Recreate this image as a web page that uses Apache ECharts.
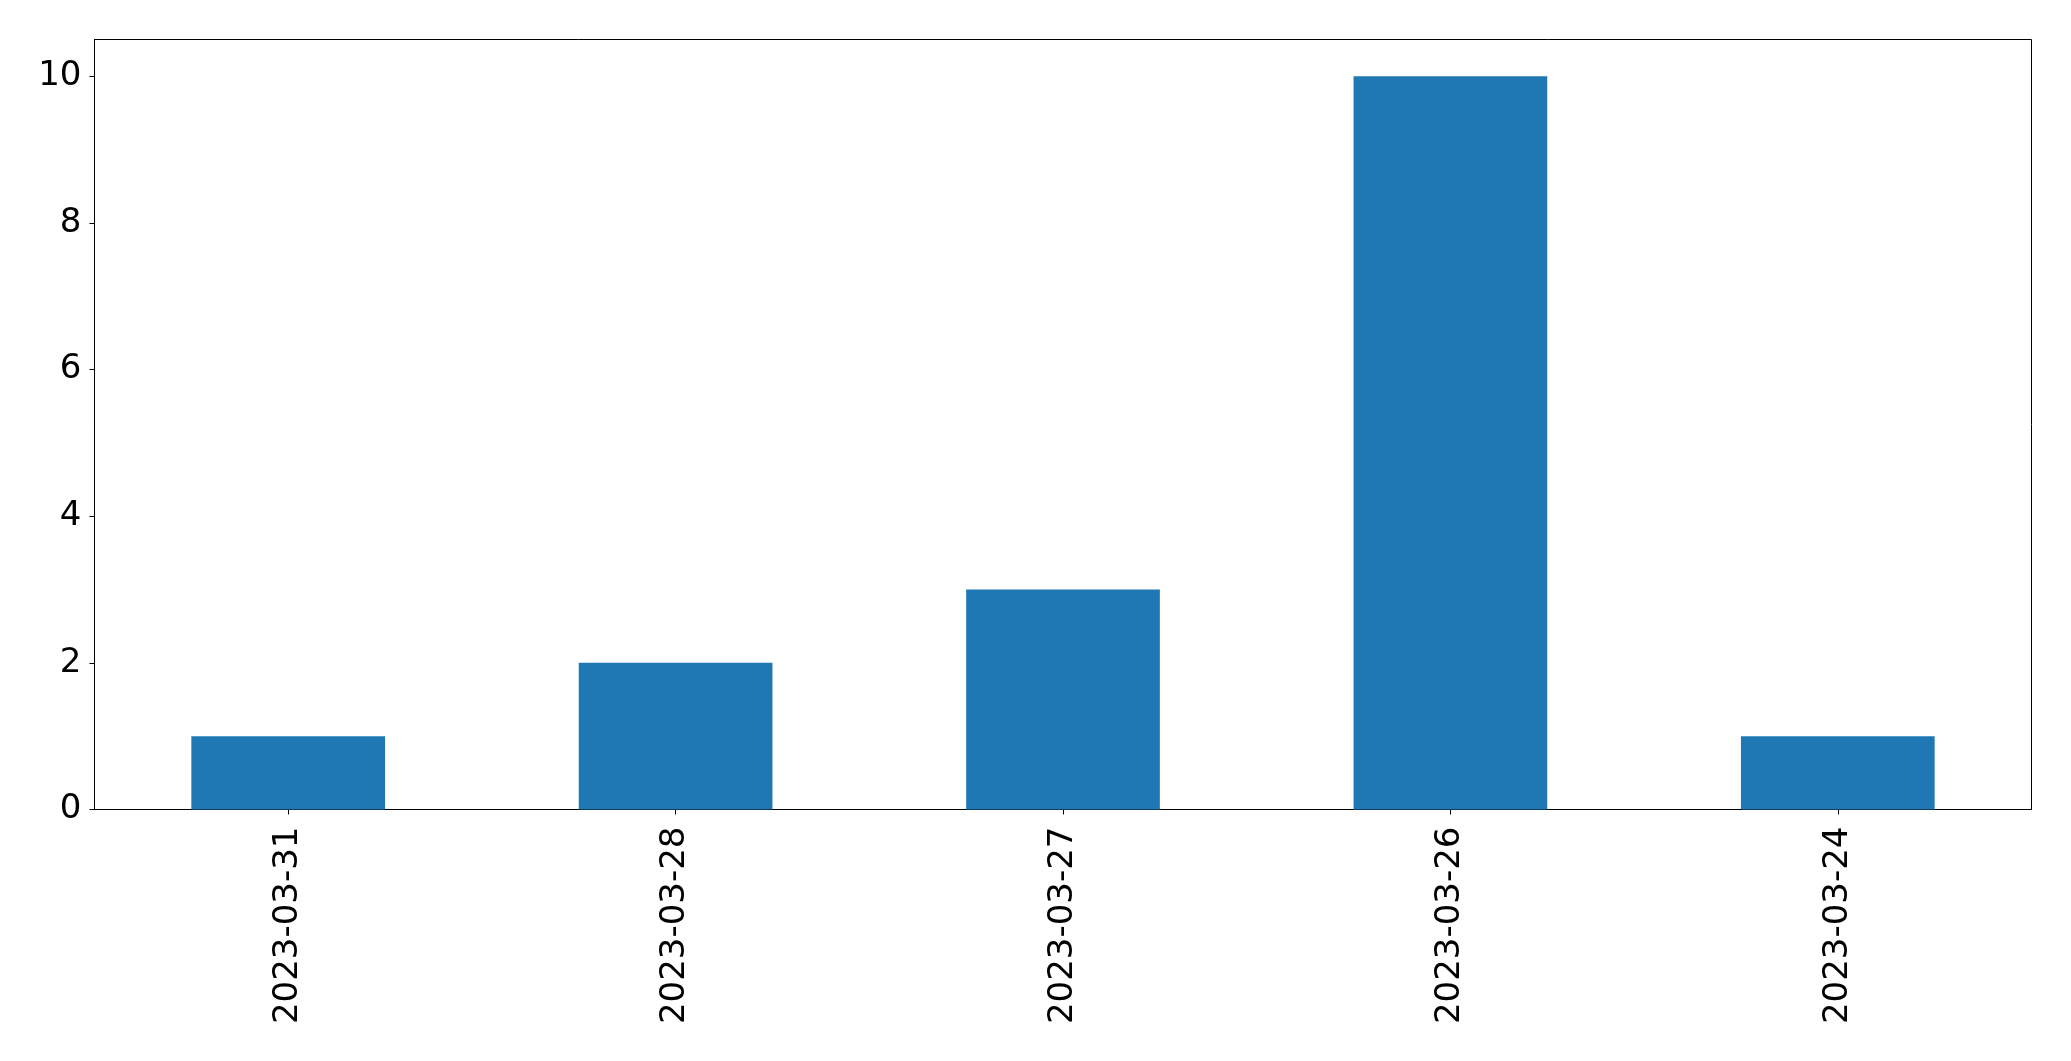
<!DOCTYPE html>
<html>
<head>
<meta charset="utf-8">
<script src="https://cdn.jsdelivr.net/npm/echarts@6/dist/echarts.min.js"></script>
<style>
html,body{margin:0;padding:0;background:#fff;}
#chart{width:2071px;height:1061px;}
</style>
</head>
<body>
<div id="chart"></div>
<script>
const categories = ['2023-03-31', '2023-03-28', '2023-03-27', '2023-03-26', '2023-03-24'];
const values = [1, 2, 3, 10, 1];
const yTicks = [0, 2, 4, 6, 8, 10];

const chart = echarts.init(document.getElementById('chart'), null, {renderer: 'canvas'});
const font = 'DejaVu Sans';
chart.setOption({
  animation: false,
  backgroundColor: '#ffffff',
  grid: {
    left: 94.5, right: 39.5, top: 39.5, bottom: 251.5,
    show: true, borderColor: '#000000', borderWidth: 1, backgroundColor: 'transparent'
  },
  xAxis: {
    type: 'category',
    data: categories,
    boundaryGap: true,
    axisLine: {show: true, lineStyle: {color: '#000', width: 1}},
    axisTick: {show: true, alignWithLabel: true, length: 5, lineStyle: {color: '#000', width: 1}},
    axisLabel: {rotate: 90, margin: 17, fontSize: 34, fontFamily: font, color: '#000'},
    splitLine: {show: false}
  },
  yAxis: {
    type: 'value',
    min: 0, max: 10.5, interval: 2,
    axisLine: {show: true, lineStyle: {color: '#000', width: 1}},
    axisTick: {show: true, length: 5, lineStyle: {color: '#000', width: 1}, customValues: yTicks},
    axisLabel: {margin: 13, fontSize: 34, fontFamily: font, color: '#000', customValues: yTicks},
    splitLine: {show: false}
  },
  series: [{
    type: 'bar',
    data: values,
    barWidth: '50%',
    itemStyle: {color: '#1f77b4'}
  }]
});
</script>
</body>
</html>
